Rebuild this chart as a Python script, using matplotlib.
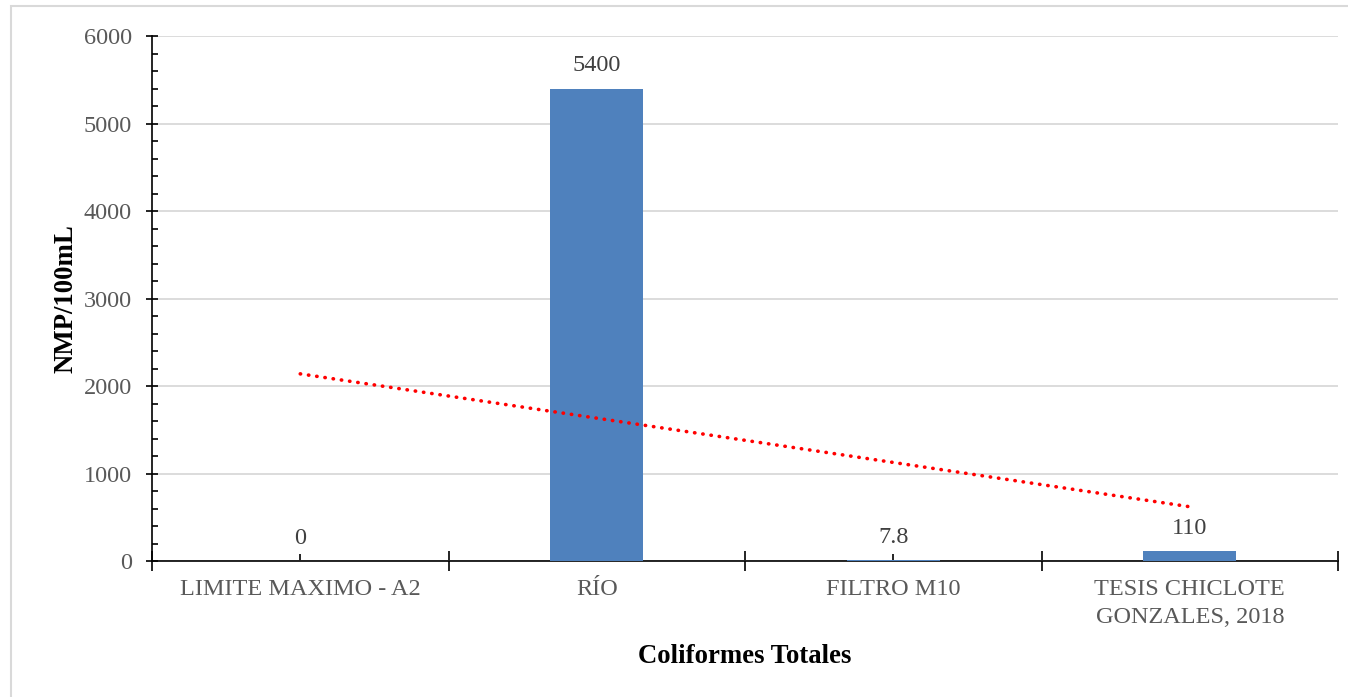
import matplotlib
matplotlib.use("Agg")
import matplotlib.pyplot as plt
import numpy as np
from matplotlib.patches import Rectangle

# Data
categories = ["LIMITE MAXIMO - A2", "RÍO", "FILTRO M10", "TESIS CHICLOTE\nGONZALES, 2018"]
values = [0, 5400, 7.8, 110]
value_labels = ["0", "5400", "7.8", "110"]
y_ticks = [0, 1000, 2000, 3000, 4000, 5000, 6000]

plt.rcParams["font.family"] = ["Liberation Serif", "DejaVu Serif"]

W, H = 1348, 697
fig = plt.figure(figsize=(W / 100, H / 100), dpi=100)
fig.patch.set_facecolor("white")

# light chart-area border
fig.add_artist(Rectangle((11 / W, -1.0), 2.0, 2.0 - 6 / H, transform=fig.transFigure,
                         fill=False, edgecolor="#d9d9d9", linewidth=1.5))

ax = fig.add_axes([152 / W, 1 - 561 / H, (1338 - 152) / W, (561 - 36) / H])

x = np.arange(len(categories))
ax.bar(x, values, width=0.315, color="#4f81bd", linewidth=0, zorder=3)

for xi, v, lab in zip(x, values, value_labels):
    ax.annotate(lab, (xi, v), xytext=(0, 9), textcoords="offset points",
                ha="center", va="bottom", fontsize=17.5, color="#404040", zorder=5)

# linear trend line
coef = np.polyfit(x, values, 1)
tx = np.array([x[0], x[-1]])
ax.plot(tx, np.polyval(coef, tx), color="#ff0000", linewidth=2.6,
        linestyle=(0, (0.1, 2.2)), dash_capstyle="round", zorder=4)

ax.set_xlim(-0.5, len(categories) - 0.5)
ax.set_ylim(0, 6000)
ax.set_yticks(y_ticks)
ax.set_yticks(np.arange(0, 6001, 200), minor=True)
ax.set_xticks(x)
ax.set_xticklabels(categories, linespacing=1.45)
ax.set_xticks(np.arange(-0.5, len(categories), 1), minor=True)

ax.grid(axis="y", which="major", color="#d9d9d9", linewidth=1.3, zorder=0)
ax.set_axisbelow(True)

for s in ["top", "right"]:
    ax.spines[s].set_visible(False)
for s in ["left", "bottom"]:
    ax.spines[s].set_linewidth(1.2)
    ax.spines[s].set_color("black")

ax.tick_params(axis="y", which="major", direction="inout", length=9, width=1.2,
               labelsize=17.5, labelcolor="#595959", pad=10)
ax.tick_params(axis="y", which="minor", direction="in", length=4.5, width=1.2)
ax.tick_params(axis="x", which="major", direction="in", length=5, width=1.2,
               labelsize=17.5, labelcolor="#595959", pad=13)
ax.tick_params(axis="x", which="minor", direction="inout", length=14, width=1.2)

ax.set_xlabel("Coliformes Totales", fontsize=19.3, fontweight="bold", labelpad=11)
ax.set_ylabel("NMP/100mL", fontsize=19.3, fontweight="bold", labelpad=4)

fig.savefig("out.png", dpi=100, facecolor="white")
